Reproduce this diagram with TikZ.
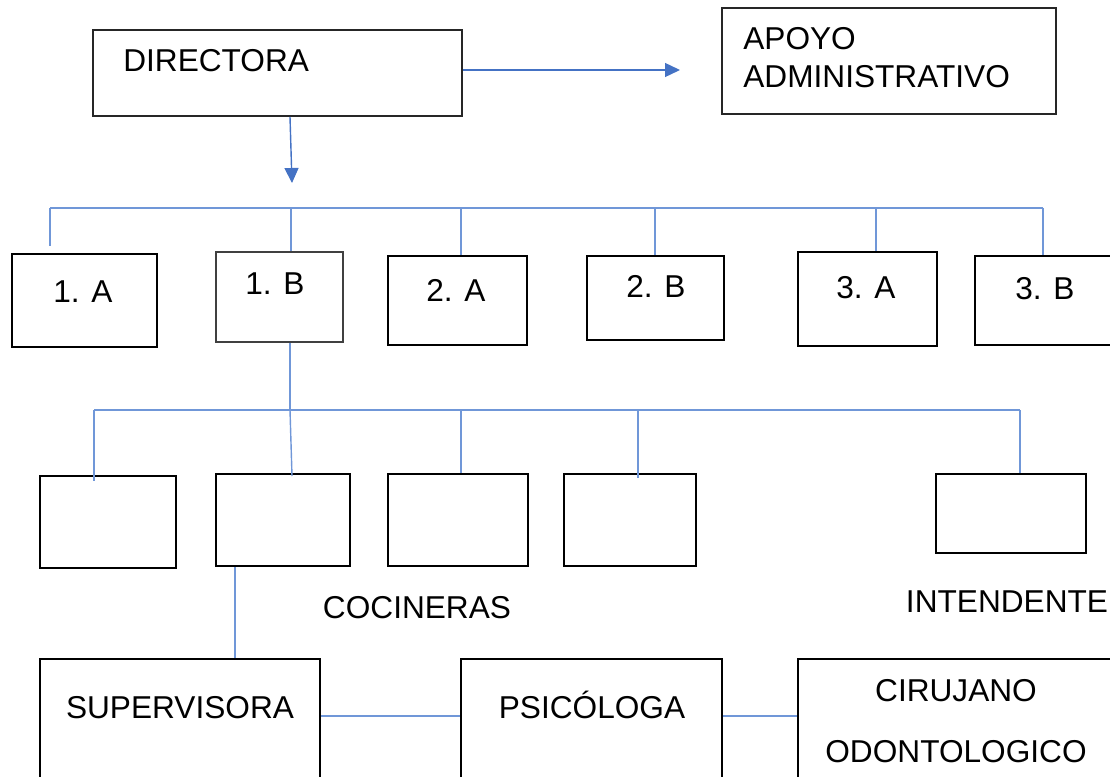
\documentclass[tikz,border=0pt]{standalone}
\usepackage{fontspec}
\setmainfont{Liberation Sans}
\usetikzlibrary{arrows.meta, calc, positioning}
\definecolor{Line}  {HTML}{4472C4}
\definecolor{LineL} {HTML}{7097D8}
\definecolor{Edge}  {HTML}{262626}
\definecolor{EdgeL} {HTML}{404040}
\tikzset{
  box/.style args={#1/#2}{
    rectangle, draw=black, fill=white,
    line width=1.6pt, inner sep=0pt,
    minimum width=#1, minimum height=#2,
  },
  tbox/.style args={#1/#2}{
    box=#1/#2, draw=Edge, line width=0.9pt,
  },
  lowbox/.style args={#1/#2}{
    box=#1/#2, line width=1.2pt,
  },
  txt/.style={
    font=\fontsize{18}{22}\selectfont,
    inner sep=0pt, text height=13pt, text depth=0pt,
  },
  mtxt/.style={
    font=\fontsize{18}{22}\selectfont,
    inner sep=0pt,
  },
  arr/.style={
    -{Triangle[length=0.3cm,width=0.28cm]},
    line width=0.8pt, color=Line,
  },
  link/.style={
    line width=0.8pt, color=LineL,
  },
}

\begin{document}
\begin{tikzpicture}[x=0.02cm,y=-0.02cm]
    \useasboundingbox (0,0) rectangle (1110,777);
    \clip (0,0) rectangle (1110,777);

    % head
    \node[tbox=7.38cm/1.72cm] (dir)   at (277.5,73)  {};
    \node[txt,anchor=west]    (dirt)  at (123,60)    {DIRECTORA};
    \node[tbox=6.68cm/2.12cm] (apoyo) at (889,61)    {};
    \node[mtxt,anchor=west,align=left] (apoyot) at (743,57.5) {APOYO\\ADMINISTRATIVO};
    \coordinate (apin)  at (680,70);
    \coordinate (ddown) at (292,183);

    % grades
    \node[box=2.9cm/1.86cm]   (n1a) at (84.5,300.5)  {};
    \node[tbox=2.54cm/1.8cm, draw=EdgeL] (n1b) at (279.5,297) {};
    \node[box=2.78cm/1.78cm]  (n2a) at (457.5,300.5) {};
    \node[box=2.74cm/1.68cm]  (n2b) at (655.5,298)   {};
    \node[box=2.78cm/1.88cm]  (n3a) at (867.5,299)   {};
    \node[box=2.9cm/1.78cm]   (n3b) at (1047.5,300.5) {};
    \node[txt] (n1at) at (83,291)  {1. A};
    \node[txt] (n1bt) at (275,283) {1. B};
    \node[txt] (n2at) at (456,290) {2. A};
    \node[txt] (n2bt) at (656,286) {2. B};
    \node[txt] (n3at) at (866,287) {3. A};
    \node[txt] (n3bt) at (1045,288) {3. B};

    % staff
    \node[box=2.72cm/1.84cm]  (c1)   at (108,522)    {};
    \node[box=2.68cm/1.84cm]  (c2)   at (283,520)    {};
    \node[box=2.8cm/1.84cm]   (c3)   at (458,520)    {};
    \node[box=2.64cm/1.84cm]  (c4)   at (630,520)    {};
    \node[box=3.0cm/1.58cm]   (intd) at (1011,513.5) {};
    \node[txt] (coc)  at (417,607)  {COCINERAS};
    \node[txt] (intt) at (1007,601) {INTENDENTE};

    % bottom row
    \node[lowbox=5.6cm/2.82cm]  (sup)  at (180,729.5) {};
    \node[lowbox=5.22cm/2.82cm] (psi)  at (591.5,729.5) {};
    \node[lowbox=6.64cm/2.82cm] (ciru) at (964,729.5) {};
    \node[txt] (supt) at (180,707) {SUPERVISORA};
    \node[txt] (psit) at (592,707) {PSICÓLOGA};
    \node[mtxt,align=center] (cirut) at (956,721) {CIRUJANO\\[12.7pt]ODONTOLOGICO};

    \coordinate (bus1) at (0,208);
    \coordinate (bus2) at (0,410);
    \coordinate (mid)  at (0,716);

    \draw[arr] (dir.east |- apin) -- (apin);
    \draw[arr] ([xshift=0.25cm]dir.south) -- (ddown);

    \draw[link] (bus1 -| 50,0) -- (bus1 -| 1043,0);
    \draw[link] (bus1 -| 50,0)   -- (50,246);
    \draw[link] (bus1 -| 291,0)  -- (n1b.north -| 291,0);
    \draw[link] (bus1 -| 461,0)  -- (n2a.north -| 461,0);
    \draw[link] (bus1 -| 655,0)  -- (n2b.north -| 655,0);
    \draw[link] (bus1 -| 876,0)  -- (n3a.north -| 876,0);
    \draw[link] (bus1 -| 1043,0) -- (n3b.north -| 1043,0);

    \draw[link] (n1b.south -| 290,0) -- (bus2 -| 290,0);
    \draw[link] (bus2 -| 94,0) -- (bus2 -| 1020,0);
    \draw[link] (bus2 -| 94,0)   -- (94,481);
    \draw[link] (bus2 -| 290,0)  -- (292,476);
    \draw[link] (bus2 -| 461,0)  -- (c3.north -| 461,0);
    \draw[link] (bus2 -| 638,0)  -- (638,478);
    \draw[link] (bus2 -| 1020,0) -- (intd.north -| 1020,0);

    \draw[link] (c2.south -| 235,0) -- (sup.north -| 235,0);
    \draw[link] (sup.east |- mid) -- (psi.west |- mid);
    \draw[link] (psi.east |- mid) -- (ciru.west |- mid);

  \end{tikzpicture}
\end{document}
